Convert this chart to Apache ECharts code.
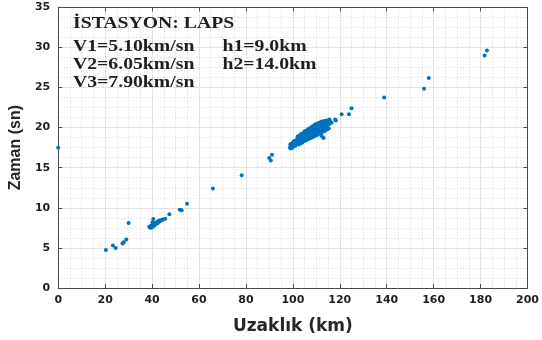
<!DOCTYPE html>
<html>
<head>
<meta charset="utf-8">
<script src="https://cdn.jsdelivr.net/npm/echarts@6/dist/echarts.min.js"></script>
<style>html,body{margin:0;padding:0;background:#fff}#c{width:542px;height:340px}</style>
</head>
<body>
<div id="c"></div>
<script>
// ---- data (Uzaklık km, Zaman sn) ----
const nearPoints = [
  [0,17.5],[20.3,4.75],[23.3,5.3],[24.5,5.0],[27.4,5.55],[27.9,5.7],[29.0,6.05],[30.0,8.1],
  [38.8,7.65],[39.2,7.5],[39.6,7.8],[39.9,7.55],[40.2,8.2],[40.5,8.6],[40.6,7.7],[40.8,8.0],
  [41.1,7.85],[41.4,8.15],[41.9,8.0],[42.3,8.3],[42.5,8.1],[43.0,8.25],[43.3,8.45],[43.6,8.35],
  [44.2,8.5],[44.7,8.55],[45.6,8.65],[47.4,9.2],[51.8,9.75],[52.6,9.7],[54.9,10.5],
  [65.9,12.4],[78.2,14.05],[89.9,16.2],[90.6,15.9],[91.1,16.6]
];
const clusterPoints = [
  [98.8,17.5],[98.9,17.9],[99.0,17.6],[99.1,17.4],[99.3,18.0],[99.5,17.7],[99.8,17.5],[100.0,18.1],
  [100.2,17.8],[100.4,18.3],[100.6,17.9],[100.9,18.2],[101.0,17.7],[101.2,18.4],[101.4,18.0],[101.7,18.3],
  [101.9,18.6],[102.1,18.1],[102.3,18.4],[102.5,18.7],[102.7,18.2],[102.9,18.5],[103.1,18.8],[103.2,18.3],
  [103.4,18.6],[103.6,18.9],[103.8,18.4],[103.9,18.7],[104.1,19.0],[104.2,18.5],[104.4,18.8],[104.5,19.1],
  [104.7,18.6],[104.8,18.9],[105.0,19.2],[105.1,18.7],[105.2,19.0],[105.4,19.3],[105.5,18.8],[105.6,19.1],
  [105.8,18.5],[105.9,19.4],[106.0,19.0],[106.1,18.7],[106.3,19.2],[106.4,19.5],[106.5,18.9],[106.7,19.3],
  [106.8,19.0],[106.9,19.6],[107.0,18.8],[107.2,19.4],[107.3,19.1],[107.4,19.7],[107.6,19.2],[107.7,18.9],
  [107.8,19.5],[108.0,19.8],[108.1,19.3],[108.2,19.0],[108.4,19.6],[108.5,19.9],[108.6,19.4],[108.8,19.1],
  [108.9,19.7],[109.0,20.0],[109.2,19.5],[109.3,19.2],[109.4,19.8],[109.6,20.1],[109.7,19.6],[109.8,19.3],
  [110.0,19.9],[110.1,20.2],[110.2,19.7],[110.4,19.4],[110.5,20.0],[110.6,20.3],[110.8,19.8],[110.9,19.5],
  [111.0,20.1],[111.2,19.9],[111.3,20.4],[111.4,19.6],[111.6,20.2],[111.7,20.0],[111.9,19.7],[112.0,20.3],
  [112.2,20.1],[112.3,19.8],[112.5,20.4],[112.7,20.2],[112.9,19.9],[113.0,20.5],[113.2,20.3],[113.4,20.0],
  [113.6,20.4],[113.8,20.6],[114.0,20.2],[114.3,20.5],[114.6,20.3],[115.0,20.6],[115.4,20.4],[116.0,20.7],
  [112.3,18.95],[113.1,18.7],[116.5,20.6],
  [102.0,18.9],[102.8,19.0],[103.5,19.2],[104.3,19.3],[105.0,19.5],[105.7,19.6],[106.4,19.8],[107.1,19.9],
  [107.9,20.05],[108.6,20.2],[109.3,20.35],[110.0,20.45],[110.8,20.55],[111.5,20.65],[112.3,20.75],[113.1,20.8],
  [114.0,20.85],[114.8,20.9],[115.6,21.0],
  [102.4,17.9],[103.1,18.0],[103.9,18.1],[104.6,18.3],[105.3,18.4],[106.0,18.5],[106.8,18.6],[107.5,18.7],
  [108.3,18.8],[109.0,18.9],[109.8,19.0],[110.6,19.1],[111.4,19.25],[112.1,19.35],[113.0,19.5],[113.8,19.6],
  [114.6,19.8],[115.3,19.9]
];
const farPoints = [
  [118.0,21.0],[118.3,20.9],[120.8,21.65],[123.9,21.65],[125.0,22.4],[138.9,23.75],
  [155.9,24.85],[157.9,26.2],[181.7,29.0],[182.7,29.6]
];
const xTitle = 'Uzaklık (km)';
const yTitle = 'Zaman (sn)';
const infoTitle = 'İSTASYON: LAPS';
const infoV = ['V1=5.10km/sn','V2=6.05km/sn','V3=7.90km/sn'];
const infoH = ['h1=9.0km','h2=14.0km'];

const allPoints = nearPoints.concat(clusterPoints, farPoints);

const chart = echarts.init(document.getElementById('c'), null, {renderer:'canvas'});
const tickFont = {fontFamily:'DejaVu Sans', fontWeight:'bold', fontSize:11, color:'#1e1e1e'};
const axisLineStyle = {lineStyle:{color:'#4a4a4a', width:1}};
const serifFont = 'bold 17px "Liberation Serif", "Times New Roman", serif';
const sx = 1.16;

const graphics = [];
graphics.push({type:'text', x:73, y:23.5, scaleX:sx, z:100,
  style:{text:infoTitle, font:serifFont, fill:'#1e1e1e', textVerticalAlign:'middle'}});
const vY = [47, 64.5, 82.5];
infoV.forEach((t,i)=>graphics.push({type:'text', x:73, y:vY[i], scaleX:sx, z:100,
  style:{text:t, font:serifFont, fill:'#1e1e1e', textVerticalAlign:'middle'}}));
infoH.forEach((t,i)=>graphics.push({type:'text', x:222.5, y:vY[i], scaleX:sx, z:100,
  style:{text:t, font:serifFont, fill:'#1e1e1e', textVerticalAlign:'middle'}}));

chart.setOption({
  animation:false,
  backgroundColor:'#fff',
  grid:{left:57.4, right:11.4, top:7.3, bottom:48.4, containLabel:false},
  xAxis:[{
    type:'value', min:0, max:200, interval:20, position:'bottom',
    name:xTitle, nameLocation:'middle', nameGap:30,
    nameTextStyle:{fontFamily:'DejaVu Sans', fontWeight:'bold', fontSize:17, color:'#262626'},
    axisLine:{show:true, onZero:false, ...axisLineStyle},
    axisTick:{show:true, inside:true, length:4, lineStyle:{color:'#4a4a4a'}},
    axisLabel:{...tickFont, margin:7},
    splitLine:{show:true, lineStyle:{color:'#e4e4e4', width:1}},
    minorTick:{show:false, splitNumber:4},
    minorSplitLine:{show:true, lineStyle:{color:'#d8d8d8', type:[1,2], width:1}}
  },{
    type:'value', min:0, max:200, interval:20, position:'top',
    axisLine:{show:true, onZero:false, ...axisLineStyle},
    axisTick:{show:true, inside:true, length:4, lineStyle:{color:'#4a4a4a'}},
    axisLabel:{show:false}, splitLine:{show:false}
  }],
  yAxis:[{
    type:'value', min:0, max:35, interval:5, position:'left',
    name:yTitle, nameLocation:'middle', nameGap:30, nameRotate:90,
    nameTextStyle:{fontFamily:'Liberation Sans', fontWeight:'bold', fontSize:16, color:'#262626'},
    axisLine:{show:true, onZero:false, ...axisLineStyle},
    axisTick:{show:true, inside:true, length:4, lineStyle:{color:'#4a4a4a'}},
    axisLabel:{...tickFont, margin:8},
    splitLine:{show:true, lineStyle:{color:'#e4e4e4', width:1}},
    minorTick:{show:false, splitNumber:4},
    minorSplitLine:{show:true, lineStyle:{color:'#d8d8d8', type:[1,2], width:1}}
  },{
    type:'value', min:0, max:35, interval:5, position:'right',
    axisLine:{show:true, onZero:false, ...axisLineStyle},
    axisTick:{show:true, inside:true, length:4, lineStyle:{color:'#4a4a4a'}},
    axisLabel:{show:false}, splitLine:{show:false}
  }],
  series:[{
    type:'scatter', xAxisIndex:0, yAxisIndex:0,
    data:allPoints, symbol:'circle', symbolSize:4,
    itemStyle:{color:'#0072BD', opacity:1},
    clip:false
  }],
  graphic:graphics
});
</script>
</body>
</html>
